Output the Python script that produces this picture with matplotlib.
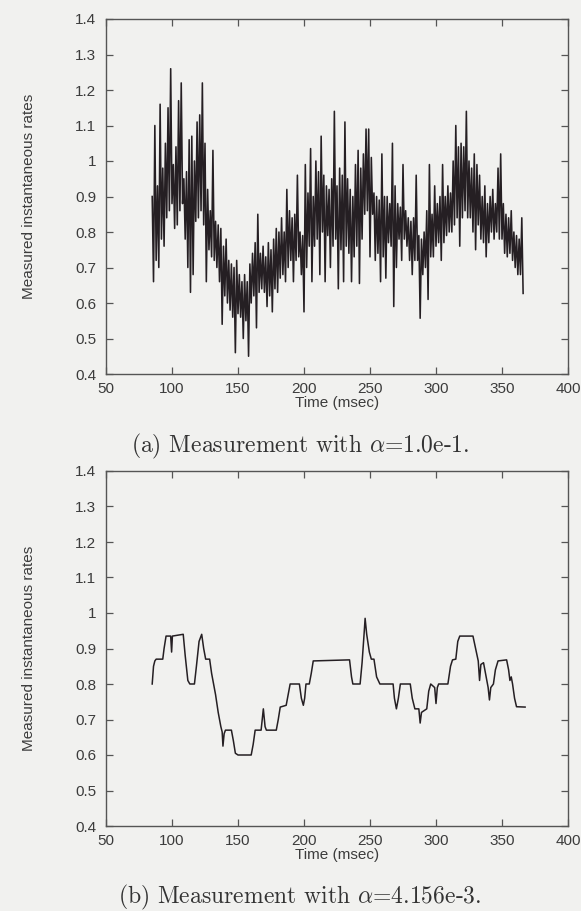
import matplotlib
matplotlib.use('Agg')  # no display here
import matplotlib.pyplot as plt
import numpy as np
from matplotlib.ticker import FormatStrFormatter

# alpha = 1.0e-1 : one high and one low sample per 2 msec, starting at 85 msec
rate_hi = [0.90, 1.10, 0.93, 1.16, 0.98, 1.05, 1.15, 1.26, 0.99, 1.04,
           1.17, 1.22, 0.95, 0.97, 1.06, 1.07, 1.00, 1.11, 1.13, 1.22,
           1.05, 0.92, 0.86, 1.03, 0.83, 0.82, 0.81, 0.76, 0.78, 0.72,
           0.71, 0.70, 0.72, 0.68, 0.66, 0.68, 0.66, 0.71, 0.74, 0.77,
           0.85, 0.74, 0.76, 0.73, 0.77, 0.75, 0.78, 0.81, 0.80, 0.84,
           0.80, 0.92, 0.86, 0.84, 0.85, 0.96, 0.80, 0.79, 0.99, 0.91,
           1.035, 0.90, 1.00, 0.97, 1.07, 0.96, 0.93, 0.92, 0.95, 1.14,
           0.93, 0.98, 0.96, 1.11, 0.95, 0.92, 0.90, 0.99, 1.03, 0.98,
           1.02, 1.09, 1.09, 1.01, 0.91, 0.90, 0.89, 1.02, 0.90, 0.90,
           0.88, 1.05, 0.93, 0.88, 0.87, 0.99, 0.86, 0.84, 0.83, 0.84,
           0.96, 0.79, 0.78, 0.80, 0.86, 0.99, 0.85, 0.93, 0.88, 0.90,
           0.99, 0.90, 0.93, 0.91, 1.00, 1.10, 1.04, 1.05, 1.04, 1.14,
           1.00, 0.98, 1.02, 0.99, 0.96, 0.90, 0.93, 0.88, 0.90, 0.92,
           0.88, 0.98, 1.02, 0.88, 0.85, 0.84, 0.86, 0.80, 0.79, 0.78,
           0.84]
rate_lo = [0.66, 0.72, 0.70, 0.78, 0.76, 0.84, 0.86, 0.88, 0.81, 0.82,
           0.86, 0.88, 0.78, 0.70, 0.63, 0.68, 0.83, 0.84, 0.86, 0.82,
           0.66, 0.75, 0.73, 0.72, 0.70, 0.66, 0.54, 0.62, 0.60, 0.58,
           0.56, 0.46, 0.57, 0.56, 0.50, 0.55, 0.45, 0.60, 0.62, 0.53,
           0.63, 0.64, 0.63, 0.59, 0.62, 0.575, 0.64, 0.63, 0.67, 0.68,
           0.66, 0.70, 0.72, 0.66, 0.72, 0.73, 0.68, 0.575, 0.70, 0.76,
           0.66, 0.76, 0.78, 0.68, 0.80, 0.66, 0.79, 0.70, 0.76, 0.78,
           0.64, 0.75, 0.66, 0.76, 0.74, 0.66, 0.73, 0.76, 0.655, 0.78,
           0.85, 0.86, 0.73, 0.85, 0.72, 0.74, 0.66, 0.73, 0.67, 0.77,
           0.76, 0.59, 0.70, 0.78, 0.72, 0.78, 0.76, 0.72, 0.68, 0.72,
           0.72, 0.557, 0.68, 0.70, 0.61, 0.73, 0.73, 0.76, 0.77, 0.72,
           0.77, 0.79, 0.80, 0.80, 0.82, 0.84, 0.76, 0.84, 0.86, 0.84,
           0.84, 0.80, 0.75, 0.82, 0.78, 0.77, 0.73, 0.77, 0.80, 0.78,
           0.80, 0.78, 0.78, 0.74, 0.73, 0.74, 0.72, 0.70, 0.68, 0.68,
           0.627]
t_first = 85

# alpha = 4.156e-3 : smoothed estimate
smooth_t = [85, 86, 87, 88, 93, 94, 95.5, 99, 99.7, 100.3, 108.5, 110, 112,
            113.5, 117, 118.5, 120.5, 122.5, 124, 125.5, 128.5, 130, 131.5,
            133, 135, 137, 138, 138.6, 139.5, 140.5, 145, 146.5, 148, 150,
            160, 161.5, 163, 167.5, 169.2, 170.5, 171.5, 179, 180.5, 182,
            186.5, 188, 189.5, 196.5, 198, 199.5, 200.5, 201.5, 204, 205.5,
            207, 234.5, 236, 237, 242.5, 244, 245.5, 246.3, 247.5, 249.5,
            251, 253, 255, 257.5, 267.5, 268.5, 270, 271.5, 273, 280.5, 282,
            284, 287, 288, 289, 293, 294.5, 296, 299, 300, 301, 302, 309,
            311, 312.5, 315, 316.5, 318, 328, 330, 332, 333, 334, 336, 338,
            339.5, 340.5, 341.5, 343.5, 345, 347, 353.5, 355, 356, 357, 358,
            359.5, 361, 367.5]
smooth_rate = [0.80, 0.85, 0.865, 0.87, 0.87, 0.90, 0.935, 0.935, 0.89, 0.935,
               0.94, 0.88, 0.81, 0.80, 0.80, 0.85, 0.92, 0.94, 0.90, 0.87,
               0.87, 0.83, 0.80, 0.77, 0.72, 0.68, 0.665, 0.625, 0.66, 0.67,
               0.67, 0.64, 0.605, 0.60, 0.60, 0.63, 0.67, 0.67, 0.73, 0.68,
               0.67, 0.67, 0.70, 0.735, 0.74, 0.77, 0.80, 0.80, 0.76, 0.74,
               0.76, 0.80, 0.80, 0.83, 0.865, 0.868, 0.82, 0.80, 0.80, 0.86,
               0.94, 0.985, 0.94, 0.89, 0.87, 0.87, 0.82, 0.80, 0.80, 0.76,
               0.73, 0.76, 0.80, 0.80, 0.76, 0.73, 0.73, 0.69, 0.72, 0.73,
               0.78, 0.80, 0.79, 0.745, 0.79, 0.80, 0.80, 0.85, 0.868, 0.87,
               0.92, 0.935, 0.935, 0.90, 0.865, 0.81, 0.855, 0.86, 0.82, 0.79,
               0.755, 0.79, 0.80, 0.84, 0.865, 0.868, 0.84, 0.81, 0.82, 0.80,
               0.76, 0.736, 0.735]

captions = ['(a) Measurement with $\\alpha$=1.0e-1.',
            '(b) Measurement with $\\alpha$=4.156e-3.']

bg = '#f1f1ef'
ink = '#251f23'
txt = '#3c3c3c'

plt.rcParams['font.family'] = ['Liberation Sans', 'DejaVu Sans']
plt.rcParams['font.size'] = 11
plt.rcParams['mathtext.fontset'] = 'cm'

fig = plt.figure(figsize=(5.81, 9.11), dpi=100, facecolor=bg)

# sample-by-sample trace for alpha = 1.0e-1
raw_y = np.empty(2 * len(rate_hi))
raw_y[0::2] = rate_hi
raw_y[1::2] = rate_lo
raw_t = t_first + np.arange(len(raw_y))

ax1 = fig.add_axes([106 / 581, 1 - 374 / 911, 462 / 581, 355 / 911])
ax2 = fig.add_axes([106 / 581, 1 - 826 / 911, 462 / 581, 355 / 911])

ax1.plot(raw_t, raw_y, color=ink, linewidth=1.15)
ax2.plot(smooth_t, smooth_rate, color=ink, linewidth=1.1)

for ax in (ax1, ax2):
    ax.set_facecolor(bg)
    ax.set_xlim(50, 400)
    ax.set_ylim(0.4, 1.4)
    ax.set_xticks([50, 100, 150, 200, 250, 300, 350, 400])
    ax.set_yticks(np.arange(4, 15) / 10)
    ax.yaxis.set_major_formatter(FormatStrFormatter('%g'))
    ax.tick_params(direction='in', length=5, width=0.9, colors='#555555',
                   labelcolor=txt, top=True, right=True, labelsize=11)
    ax.tick_params(axis='x', pad=6)
    ax.tick_params(axis='y', pad=7)
    for s in ax.spines.values():
        s.set_color('#555555')
        s.set_linewidth(1.0)
    ax.set_xlabel('Time (msec)', color=txt, labelpad=0)
    ax.set_ylabel('Measured instantaneous rates', color=txt)
    ax.yaxis.set_label_coords(-0.152, 0.5)

fig.text(300 / 581, 1 - 446 / 911, captions[0], ha='center', va='center',
         family='cmr10', fontsize=17, color='#333333')
fig.text(300 / 581, 1 - 897 / 911, captions[1], ha='center', va='center',
         family='cmr10', fontsize=17, color='#333333')

fig.savefig('out.png', dpi=100, facecolor=bg)
